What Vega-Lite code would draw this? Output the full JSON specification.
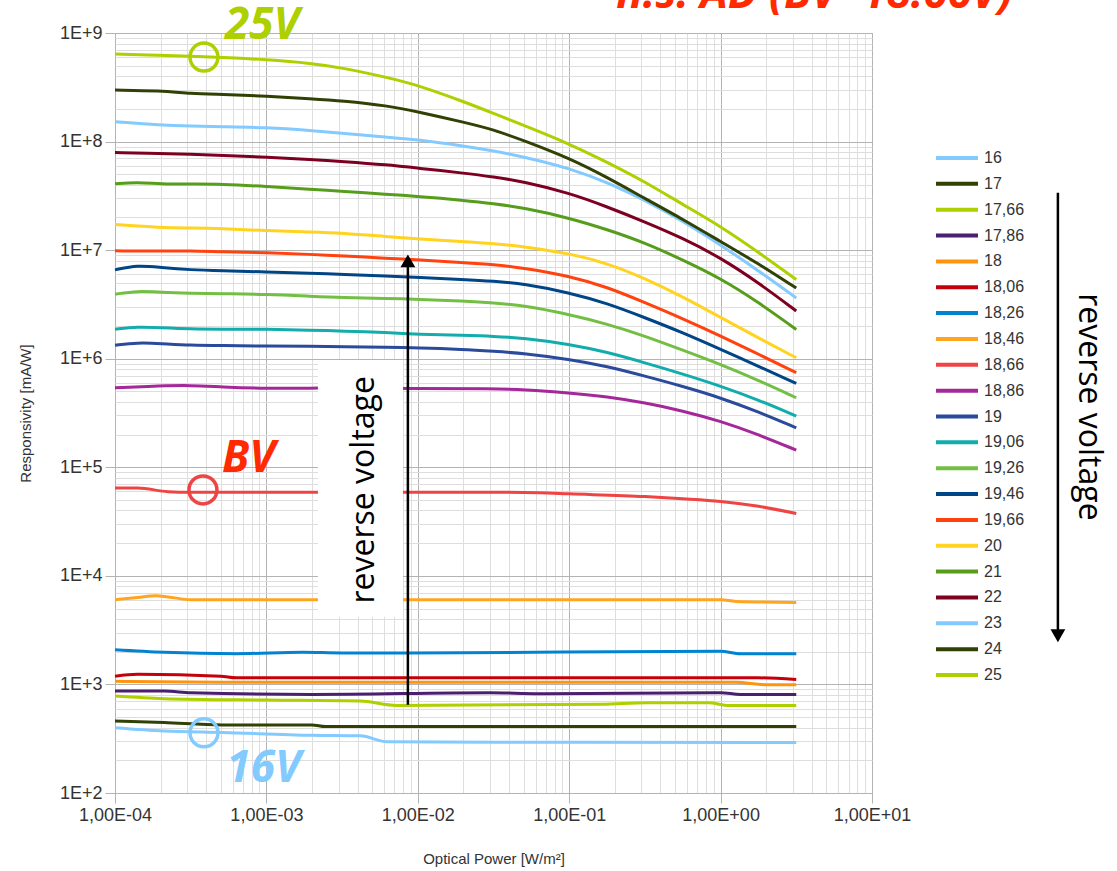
{
"$schema": "https://vega.github.io/schema/vega-lite/v6.json",
"width": 757, "height": 760,
"autosize": {"type": "none"},
"padding": {"left": 115, "top": 33, "right": 245, "bottom": 78},
"background": "white",
"config": {"view": {"stroke": "#b3b3b3", "strokeWidth": 1}, "font": "Liberation Sans"},
"datasets": {
"curves": [
{"v":"16","x":0.0001,"y":400},{"v":"16","x":0.000211,"y":373},{"v":"16","x":0.000513,"y":361},{"v":"16","x":0.002,"y":340},{"v":"16","x":0.00417,"y":336},{"v":"16","x":0.00631,"y":296},{"v":"16","x":0.1,"y":293},{"v":"16","x":3.16,"y":292},
{"v":"17","x":0.0001,"y":461},{"v":"17","x":0.000211,"y":445},{"v":"17","x":0.000513,"y":424},{"v":"17","x":0.002,"y":424},{"v":"17","x":0.00245,"y":409},{"v":"17","x":3.16,"y":409},
{"v":"17,66","x":0.0001,"y":782},{"v":"17,66","x":0.000211,"y":740},{"v":"17,66","x":0.001,"y":718},{"v":"17,66","x":0.00417,"y":703},{"v":"17,66","x":0.00724,"y":641},{"v":"17,66","x":0.164,"y":656},{"v":"17,66","x":0.324,"y":679},{"v":"17,66","x":0.838,"y":679},{"v":"17,66","x":1.1,"y":641},{"v":"17,66","x":3.16,"y":641},
{"v":"17,86","x":0.0001,"y":869},{"v":"17,86","x":0.000211,"y":869},{"v":"17,86","x":0.000316,"y":839},{"v":"17,86","x":0.002,"y":809},{"v":"17,86","x":0.0302,"y":839},{"v":"17,86","x":0.0631,"y":822},{"v":"17,86","x":1,"y":839},{"v":"17,86","x":1.35,"y":809},{"v":"17,86","x":3.16,"y":809},
{"v":"18","x":0.0001,"y":1070},{"v":"18","x":0.000501,"y":1050},{"v":"18","x":1.26,"y":1050},{"v":"18","x":2,"y":993},{"v":"18","x":3.16,"y":993},
{"v":"18,06","x":0.0001,"y":1190},{"v":"18,06","x":0.000141,"y":1240},{"v":"18,06","x":0.000501,"y":1190},{"v":"18,06","x":0.000631,"y":1150},{"v":"18,06","x":1.78,"y":1150},{"v":"18,06","x":3.16,"y":1110},
{"v":"18,26","x":0.0001,"y":2090},{"v":"18,26","x":0.000211,"y":1980},{"v":"18,26","x":0.000631,"y":1920},{"v":"18,26","x":0.00174,"y":1980},{"v":"18,26","x":0.00316,"y":1950},{"v":"18,26","x":0.00832,"y":1950},{"v":"18,26","x":1,"y":2020},{"v":"18,26","x":1.35,"y":1920},{"v":"18,26","x":3.16,"y":1920},
{"v":"18,46","x":0.0001,"y":6030},{"v":"18,46","x":0.000141,"y":6310},{"v":"18,46","x":0.000186,"y":6560},{"v":"18,46","x":0.000224,"y":6400},{"v":"18,46","x":0.000316,"y":6030},{"v":"18,46","x":1,"y":6030},{"v":"18,46","x":1.26,"y":5820},{"v":"18,46","x":3.16,"y":5690},
{"v":"18,66","x":0.0001,"y":64400},{"v":"18,66","x":0.000141,"y":64400},{"v":"18,66","x":0.000224,"y":59600},{"v":"18,66","x":0.000316,"y":58900},{"v":"18,66","x":0.0316,"y":58900},{"v":"18,66","x":0.0631,"y":58200},{"v":"18,66","x":0.1,"y":56900},{"v":"18,66","x":0.316,"y":53700},{"v":"18,66","x":0.562,"y":51300},{"v":"18,66","x":1,"y":48400},{"v":"18,66","x":1.78,"y":43700},{"v":"18,66","x":3.16,"y":37600},
{"v":"18,86","x":0.0001,"y":540000},{"v":"18,86","x":0.0002,"y":562000},{"v":"18,86","x":0.000316,"y":569000},{"v":"18,86","x":0.000501,"y":550000},{"v":"18,86","x":0.001,"y":532000},{"v":"18,86","x":0.002,"y":537000},{"v":"18,86","x":0.00316,"y":535000},{"v":"18,86","x":0.01,"y":532000},{"v":"18,86","x":0.0316,"y":530000},{"v":"18,86","x":0.0501,"y":521000},{"v":"18,86","x":0.1,"y":485000},{"v":"18,86","x":0.178,"y":447000},{"v":"18,86","x":0.316,"y":393000},{"v":"18,86","x":0.562,"y":331000},{"v":"18,86","x":1,"y":266000},{"v":"18,86","x":1.78,"y":200000},{"v":"18,86","x":3.16,"y":144000},
{"v":"19","x":0.0001,"y":1330000},{"v":"19","x":0.000141,"y":1410000},{"v":"19","x":0.0002,"y":1380000},{"v":"19","x":0.000316,"y":1330000},{"v":"19","x":0.000501,"y":1320000},{"v":"19","x":0.001,"y":1310000},{"v":"19","x":0.002,"y":1300000},{"v":"19","x":0.00316,"y":1290000},{"v":"19","x":0.00631,"y":1280000},{"v":"19","x":0.01,"y":1260000},{"v":"19","x":0.02,"y":1220000},{"v":"19","x":0.0316,"y":1170000},{"v":"19","x":0.0501,"y":1120000},{"v":"19","x":0.1,"y":986000},{"v":"19","x":0.178,"y":851000},{"v":"19","x":0.316,"y":692000},{"v":"19","x":0.562,"y":556000},{"v":"19","x":1,"y":437000},{"v":"19","x":1.78,"y":324000},{"v":"19","x":3.16,"y":231000},
{"v":"19,06","x":0.0001,"y":1870000},{"v":"19,06","x":0.000141,"y":1970000},{"v":"19,06","x":0.0002,"y":1930000},{"v":"19,06","x":0.000316,"y":1880000},{"v":"19,06","x":0.000501,"y":1870000},{"v":"19,06","x":0.001,"y":1870000},{"v":"19,06","x":0.002,"y":1830000},{"v":"19,06","x":0.00316,"y":1800000},{"v":"19,06","x":0.00631,"y":1740000},{"v":"19,06","x":0.01,"y":1680000},{"v":"19,06","x":0.02,"y":1640000},{"v":"19,06","x":0.0316,"y":1610000},{"v":"19,06","x":0.0501,"y":1550000},{"v":"19,06","x":0.1,"y":1360000},{"v":"19,06","x":0.178,"y":1150000},{"v":"19,06","x":0.316,"y":918000},{"v":"19,06","x":0.562,"y":724000},{"v":"19,06","x":1,"y":560000},{"v":"19,06","x":1.78,"y":417000},{"v":"19,06","x":3.16,"y":296000},
{"v":"19,26","x":0.0001,"y":3930000},{"v":"19,26","x":0.000141,"y":4220000},{"v":"19,26","x":0.0002,"y":4090000},{"v":"19,26","x":0.000316,"y":4010000},{"v":"19,26","x":0.000501,"y":3960000},{"v":"19,26","x":0.001,"y":3930000},{"v":"19,26","x":0.002,"y":3760000},{"v":"19,26","x":0.00316,"y":3660000},{"v":"19,26","x":0.00631,"y":3590000},{"v":"19,26","x":0.01,"y":3530000},{"v":"19,26","x":0.02,"y":3390000},{"v":"19,26","x":0.0316,"y":3270000},{"v":"19,26","x":0.0501,"y":3090000},{"v":"19,26","x":0.1,"y":2560000},{"v":"19,26","x":0.178,"y":2090000},{"v":"19,26","x":0.316,"y":1620000},{"v":"19,26","x":0.562,"y":1200000},{"v":"19,26","x":1,"y":887000},{"v":"19,26","x":1.78,"y":631000},{"v":"19,26","x":3.16,"y":437000},
{"v":"19,46","x":0.0001,"y":6580000},{"v":"19,46","x":0.000141,"y":7280000},{"v":"19,46","x":0.0002,"y":6920000},{"v":"19,46","x":0.000316,"y":6580000},{"v":"19,46","x":0.000501,"y":6460000},{"v":"19,46","x":0.001,"y":6310000},{"v":"19,46","x":0.002,"y":6120000},{"v":"19,46","x":0.00316,"y":6000000},{"v":"19,46","x":0.00631,"y":5750000},{"v":"19,46","x":0.01,"y":5600000},{"v":"19,46","x":0.02,"y":5370000},{"v":"19,46","x":0.0316,"y":5190000},{"v":"19,46","x":0.0501,"y":4900000},{"v":"19,46","x":0.1,"y":4060000},{"v":"19,46","x":0.178,"y":3240000},{"v":"19,46","x":0.316,"y":2390000},{"v":"19,46","x":0.562,"y":1740000},{"v":"19,46","x":1,"y":1220000},{"v":"19,46","x":1.78,"y":851000},{"v":"19,46","x":3.16,"y":592000},
{"v":"19,66","x":0.0001,"y":9860000},{"v":"19,66","x":0.0002,"y":9770000},{"v":"19,66","x":0.000316,"y":9860000},{"v":"19,66","x":0.000501,"y":9660000},{"v":"19,66","x":0.001,"y":9510000},{"v":"19,66","x":0.002,"y":9120000},{"v":"19,66","x":0.00316,"y":8870000},{"v":"19,66","x":0.00631,"y":8410000},{"v":"19,66","x":0.01,"y":8130000},{"v":"19,66","x":0.02,"y":7670000},{"v":"19,66","x":0.0316,"y":7380000},{"v":"19,66","x":0.0501,"y":6840000},{"v":"19,66","x":0.1,"y":5790000},{"v":"19,66","x":0.178,"y":4570000},{"v":"19,66","x":0.316,"y":3290000},{"v":"19,66","x":0.562,"y":2340000},{"v":"19,66","x":1,"y":1620000},{"v":"19,66","x":1.78,"y":1100000},{"v":"19,66","x":3.16,"y":743000},
{"v":"20","x":0.0001,"y":17200000},{"v":"20","x":0.0002,"y":16100000},{"v":"20","x":0.000316,"y":16000000},{"v":"20","x":0.000501,"y":15800000},{"v":"20","x":0.001,"y":15100000},{"v":"20","x":0.002,"y":14700000},{"v":"20","x":0.00316,"y":14400000},{"v":"20","x":0.00631,"y":13300000},{"v":"20","x":0.01,"y":12700000},{"v":"20","x":0.02,"y":12000000},{"v":"20","x":0.0316,"y":11500000},{"v":"20","x":0.0501,"y":10800000},{"v":"20","x":0.1,"y":9330000},{"v":"20","x":0.178,"y":7590000},{"v":"20","x":0.316,"y":5500000},{"v":"20","x":0.562,"y":3720000},{"v":"20","x":1,"y":2400000},{"v":"20","x":1.78,"y":1550000},{"v":"20","x":3.16,"y":1020000},
{"v":"21","x":0.0001,"y":40900000},{"v":"21","x":0.000141,"y":42400000},{"v":"21","x":0.0002,"y":40600000},{"v":"21","x":0.000316,"y":40600000},{"v":"21","x":0.000501,"y":40700000},{"v":"21","x":0.001,"y":38600000},{"v":"21","x":0.002,"y":36300000},{"v":"21","x":0.00316,"y":34800000},{"v":"21","x":0.00631,"y":32700000},{"v":"21","x":0.01,"y":31300000},{"v":"21","x":0.02,"y":28800000},{"v":"21","x":0.0316,"y":26900000},{"v":"21","x":0.0501,"y":24500000},{"v":"21","x":0.1,"y":19800000},{"v":"21","x":0.178,"y":15500000},{"v":"21","x":0.316,"y":11700000},{"v":"21","x":0.562,"y":8130000},{"v":"21","x":1,"y":5500000},{"v":"21","x":1.78,"y":3310000},{"v":"21","x":3.16,"y":1860000},
{"v":"22","x":0.0001,"y":79300000},{"v":"22","x":0.0002,"y":77600000},{"v":"22","x":0.000316,"y":76600000},{"v":"22","x":0.000501,"y":74500000},{"v":"22","x":0.001,"y":71800000},{"v":"22","x":0.002,"y":68400000},{"v":"22","x":0.00316,"y":65600000},{"v":"22","x":0.00631,"y":61000000},{"v":"22","x":0.01,"y":56900000},{"v":"22","x":0.02,"y":51300000},{"v":"22","x":0.0316,"y":47300000},{"v":"22","x":0.0501,"y":42700000},{"v":"22","x":0.1,"y":33600000},{"v":"22","x":0.178,"y":25100000},{"v":"22","x":0.316,"y":18200000},{"v":"22","x":0.562,"y":12900000},{"v":"22","x":1,"y":8510000},{"v":"22","x":1.78,"y":5010000},{"v":"22","x":3.16,"y":2750000},
{"v":"23","x":0.0001,"y":152000000},{"v":"23","x":0.0002,"y":142000000},{"v":"23","x":0.000316,"y":139000000},{"v":"23","x":0.000501,"y":137000000},{"v":"23","x":0.001,"y":135000000},{"v":"23","x":0.002,"y":126000000},{"v":"23","x":0.00316,"y":119000000},{"v":"23","x":0.00631,"y":110000000},{"v":"23","x":0.01,"y":104000000},{"v":"23","x":0.02,"y":91200000},{"v":"23","x":0.0316,"y":82200000},{"v":"23","x":0.0501,"y":72400000},{"v":"23","x":0.1,"y":56900000},{"v":"23","x":0.178,"y":42200000},{"v":"23","x":0.316,"y":28800000},{"v":"23","x":0.562,"y":18600000},{"v":"23","x":1,"y":11200000},{"v":"23","x":1.78,"y":6460000},{"v":"23","x":3.16,"y":3630000},
{"v":"24","x":0.0001,"y":298000000},{"v":"24","x":0.0002,"y":294000000},{"v":"24","x":0.000316,"y":277000000},{"v":"24","x":0.000501,"y":272000000},{"v":"24","x":0.001,"y":262000000},{"v":"24","x":0.002,"y":248000000},{"v":"24","x":0.00316,"y":238000000},{"v":"24","x":0.00631,"y":214000000},{"v":"24","x":0.01,"y":188000000},{"v":"24","x":0.02,"y":151000000},{"v":"24","x":0.0316,"y":129000000},{"v":"24","x":0.0501,"y":102000000},{"v":"24","x":0.1,"y":70300000},{"v":"24","x":0.178,"y":46800000},{"v":"24","x":0.316,"y":29900000},{"v":"24","x":0.562,"y":19300000},{"v":"24","x":1,"y":12000000},{"v":"24","x":1.78,"y":7500000},{"v":"24","x":3.16,"y":4470000},
{"v":"25","x":0.0001,"y":640000000},{"v":"25","x":0.0002,"y":624000000},{"v":"25","x":0.000316,"y":610000000},{"v":"25","x":0.000501,"y":596000000},{"v":"25","x":0.001,"y":569000000},{"v":"25","x":0.002,"y":525000000},{"v":"25","x":0.00316,"y":479000000},{"v":"25","x":0.00631,"y":389000000},{"v":"25","x":0.01,"y":331000000},{"v":"25","x":0.02,"y":234000000},{"v":"25","x":0.0316,"y":182000000},{"v":"25","x":0.0501,"y":141000000},{"v":"25","x":0.1,"y":95500000},{"v":"25","x":0.178,"y":64600000},{"v":"25","x":0.316,"y":42700000},{"v":"25","x":0.562,"y":26300000},{"v":"25","x":1,"y":16600000},{"v":"25","x":1.78,"y":9550000},{"v":"25","x":3.16,"y":5370000}
],
"ann": [
{"kind":"box","x":0.00219,"x2":0.00798,"y":975000,"y2":4190},
{"kind":"vtext","label":"reverse voltage","x":0.00438,"y":62000},
{"kind":"rtext","label":"reverse voltage","x":271,"y":360000},
{"kind":"arrow","x":0.0086,"y":649,"y2":7800000},
{"kind":"arrow","x":169,"y":33700000,"y2":3050},
{"kind":"headup","x":0.0086,"y":7960000},
{"kind":"headdown","x":169,"y":2806},
{"kind":"circle","v":"25","x":0.000387,"y":600000000},
{"kind":"circle","v":"18,66","x":0.000381,"y":61900},
{"kind":"circle","v":"16","x":0.000387,"y":358},
{"kind":"vlabel","v":"25","label":"25V","x":0.000533,"y":881000000},
{"kind":"vlabel","v":"16","label":"16V","x":0.000545,"y":127},
{"kind":"bv","label":"BV","x":0.000509,"y":90800},
{"kind":"title","label":"n.s. AD (BV=18.66V)","x":85,"y":1700000000}
]
},
"encoding": {
"x": {"field": "x", "type": "quantitative",
 "scale": {"type": "log", "domain": [0.0001, 10], "nice": false},
 "axis": {"title": "Optical Power [W/m²]",
  "values": [0.0001,0.0002,0.0003,0.0004,0.0005,0.0006,0.0007,0.0008,0.0009,0.001,0.002,0.003,0.004,0.005,0.006,0.007,0.008,0.009,0.01,0.02,0.03,0.04,0.05,0.06,0.07,0.08,0.09,0.1,0.2,0.3,0.4,0.5,0.6,0.7,0.8,0.9,1,2,3,4,5,6,7,8,9,10],
  "labelExpr": "datum.value == 0.0001 ? '1,00E-04' : datum.value == 0.001 ? '1,00E-03' : datum.value == 0.01 ? '1,00E-02' : datum.value == 0.1 ? '1,00E-01' : datum.value == 1 ? '1,00E+00' : datum.value == 10 ? '1,00E+01' : ''",
  "grid": true,
  "gridColor": {"condition": {"test": "indexof([0.0001,0.001,0.01,0.1,1,10], datum.value) >= 0", "value": "#b3b3b3"}, "value": "#dedede"},
  "tickSize": {"condition": {"test": "indexof([0.0001,0.001,0.01,0.1,1,10], datum.value) >= 0", "value": 10}, "value": 0},
  "tickColor": "#b3b3b3", "domain": false,
  "labelFont": "Liberation Sans", "labelFontSize": 18, "labelColor": "#333333", "labelPadding": 3, "labelOverlap": false, "labelFlush": false,
  "titleFont": "Liberation Sans", "titleFontSize": 15, "titleFontWeight": "normal", "titleColor": "#333333", "titlePadding": 27}},
"y": {"field": "y", "type": "quantitative",
 "scale": {"type": "log", "domain": [100, 1000000000], "nice": false},
 "axis": {"title": "Responsivity [mA/W]",
  "values": [100,200,300,400,500,600,700,800,900,1000,2000,3000,4000,5000,6000,7000,8000,9000,10000,20000,30000,40000,50000,60000,70000,80000,90000,100000,200000,300000,400000,500000,600000,700000,800000,900000,1000000,2000000,3000000,4000000,5000000,6000000,7000000,8000000,9000000,10000000,20000000,30000000,40000000,50000000,60000000,70000000,80000000,90000000,100000000,200000000,300000000,400000000,500000000,600000000,700000000,800000000,900000000,1000000000],
  "labelExpr": "indexof([100,1000,10000,100000,1000000,10000000,100000000,1000000000], datum.value) >= 0 ? '1E+' + round(log(datum.value)/LN10) : ''",
  "grid": true,
  "gridColor": {"condition": {"test": "indexof([100,1000,10000,100000,1000000,10000000,100000000,1000000000], datum.value) >= 0", "value": "#b3b3b3"}, "value": "#dedede"},
  "tickSize": {"condition": {"test": "indexof([100,1000,10000,100000,1000000,10000000,100000000,1000000000], datum.value) >= 0", "value": 10}, "value": 0},
  "tickColor": "#b3b3b3", "domain": false,
  "labelFont": "Liberation Sans", "labelFontSize": 18, "labelColor": "#333333", "labelPadding": 3, "labelOverlap": false, "labelFlush": false,
  "titleFont": "Liberation Sans", "titleFontSize": 15, "titleFontWeight": "normal", "titleColor": "#333333", "titlePadding": 26}}
},
"layer": [
{"data": {"name": "curves"},
 "transform": [{"filter": "indexof(['16','17','17,66','17,86','18','18,06','18,26','18,46','18,66'], datum.v) >= 0"}],
 "mark": {"type": "line", "strokeWidth": 3, "interpolate": "monotone"},
 "encoding": {
  "color": {"field": "v", "type": "nominal",
   "scale": {"domain": ["16","17","17,66","17,86","18","18,06","18,26","18,46","18,66","18,86","19","19,06","19,26","19,46","19,66","20","21","22","23","24","25"],
    "range": ["#83caff","#314004","#aecf00","#4b1f6f","#ff950e","#c5000b","#0084d1","#ffa51f","#ee4444","#a4289a","#2a4a9b","#12acac","#72bf44","#004586","#ff420e","#ffd320","#579d1c","#7e0021","#83caff","#314004","#aecf00"]},
   "legend": {"title": null, "orient": "none", "legendX": 819, "legendY": 117, "symbolType": "stroke", "symbolSize": 1764, "symbolStrokeWidth": 4, "clipHeight": 16, "rowPadding": 9.85, "labelFont": "Liberation Sans", "labelFontSize": 16, "labelColor": "#333333", "labelOffset": 4}}
 }},
{"data": {"name": "curves"},
 "transform": [{"filter": "indexof(['16','17','17,66','17,86','18','18,06','18,26','18,46','18,66'], datum.v) < 0"}],
 "mark": {"type": "line", "strokeWidth": 3, "interpolate": "basis"},
 "encoding": {"color": {"field": "v", "type": "nominal"}}},
{"data": {"name": "ann"}, "transform": [{"filter": "datum.kind == 'box'"}],
 "mark": {"type": "rect", "color": "white"},
 "encoding": {"x2": {"field": "x2"}, "y2": {"field": "y2"}}},
{"data": {"name": "ann"}, "transform": [{"filter": "datum.kind == 'vtext'"}],
 "mark": {"type": "text", "angle": 270, "align": "center", "baseline": "middle", "font": "Open Sans", "fontSize": 32, "color": "black"},
 "encoding": {"text": {"field": "label"}}},
{"data": {"name": "ann"}, "transform": [{"filter": "datum.kind == 'rtext'"}],
 "mark": {"type": "text", "angle": 90, "align": "center", "baseline": "middle", "font": "Open Sans", "fontSize": 32, "color": "black"},
 "encoding": {"text": {"field": "label"}}},
{"data": {"name": "ann"}, "transform": [{"filter": "datum.kind == 'arrow'"}],
 "mark": {"type": "rule", "color": "black", "strokeWidth": 2.5},
 "encoding": {"y2": {"field": "y2"}}},
{"data": {"name": "ann"}, "transform": [{"filter": "datum.kind == 'headup'"}],
 "mark": {"type": "point", "shape": "triangle-up", "filled": true, "color": "black", "size": 220, "opacity": 1},
 "encoding": {}},
{"data": {"name": "ann"}, "transform": [{"filter": "datum.kind == 'headdown'"}],
 "mark": {"type": "point", "shape": "triangle-down", "filled": true, "color": "black", "size": 220, "opacity": 1},
 "encoding": {}},
{"data": {"name": "ann"}, "transform": [{"filter": "datum.kind == 'circle'"}],
 "mark": {"type": "point", "shape": "circle", "filled": false, "size": 784, "strokeWidth": 3.5, "opacity": 1},
 "encoding": {"color": {"field": "v", "type": "nominal"}}},
{"data": {"name": "ann"}, "transform": [{"filter": "datum.kind == 'vlabel'"}],
 "mark": {"type": "text", "align": "left", "baseline": "alphabetic", "font": "Open Sans", "fontSize": 44, "fontStyle": "italic", "fontWeight": "bold"},
 "encoding": {"text": {"field": "label"}, "color": {"field": "v", "type": "nominal"}}},
{"data": {"name": "ann"}, "transform": [{"filter": "datum.kind == 'bv'"}],
 "mark": {"type": "text", "align": "left", "baseline": "alphabetic", "font": "Open Sans", "fontSize": 44, "fontStyle": "italic", "fontWeight": "bold", "color": "#ff2a00"},
 "encoding": {"text": {"field": "label"}}},
{"data": {"name": "ann"}, "transform": [{"filter": "datum.kind == 'title'"}],
 "mark": {"type": "text", "align": "right", "baseline": "alphabetic", "font": "Open Sans", "fontSize": 44, "fontStyle": "italic", "fontWeight": "bold", "color": "#ff2a00"},
 "encoding": {"text": {"field": "label"}}}
]
}
